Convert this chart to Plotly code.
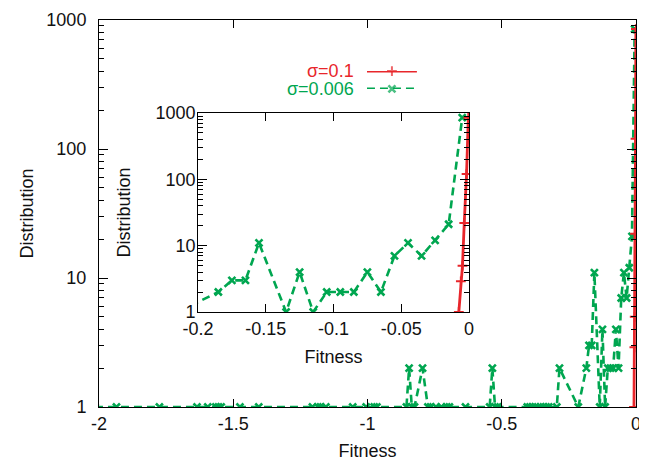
import plotly.graph_objects as go

# ---- data ----
green_fitness = [-2.015, -1.935, -1.775, -1.635, -1.595, -1.565, -1.555, -1.545, -1.475, -1.405,
                 -1.205, -1.185, -1.175, -1.155, -1.055, -1.005, -0.975, -0.965, -0.855, -0.845,
                 -0.835, -0.825, -0.795, -0.775, -0.765, -0.745, -0.725, -0.705, -0.695, -0.635,
                 -0.545, -0.535, -0.525, -0.515, -0.405, -0.395, -0.385, -0.375, -0.355, -0.345,
                 -0.335, -0.325, -0.295, -0.285, -0.215, -0.185, -0.175, -0.165, -0.155, -0.135,
                 -0.125, -0.115, -0.105, -0.095, -0.085, -0.075, -0.065, -0.055, -0.045, -0.035,
                 -0.025, -0.015, -0.005]
green_counts = [1, 1, 1, 1, 1, 1, 1, 1, 1, 1,
                1, 1, 1, 1, 1, 1, 1, 1, 1, 2,
                1, 1, 2, 1, 1, 1, 1, 1, 1, 1,
                1, 2, 1, 1, 1, 1, 1, 1, 1, 1,
                1, 1, 1, 2, 1, 2, 3, 3, 11, 1,
                4, 1, 2, 2, 2, 4, 2, 7, 11, 7,
                12, 21, 850]

red_fitness = [-0.0075, -0.006, -0.0048, -0.0035, -0.0018, -0.0005]
red_counts = [1, 2.9, 5, 22, 120, 850]

main_xticks = [-2, -1.5, -1, -0.5, 0]
main_xlabels = ["-2", "-1.5", "-1", "-0.5", "0"]
inset_xticks = [-0.2, -0.15, -0.1, -0.05, 0]
inset_xlabels = ["-0.2", "-0.15", "-0.1", "-0.05", "0"]
yticks = [1, 10, 100, 1000]
ylabels = ["1", "10", "100", "1000"]
minor_yticks = [2, 3, 4, 5, 6, 7, 8, 9, 20, 30, 40, 50, 60, 70, 80, 90,
                200, 300, 400, 500, 600, 700, 800, 900]
legend_labels = ["σ=0.1", "σ=0.006"]

RED = "#e8262b"
GREEN = "#00a650"
FONT = "Liberation Sans"
FS = 18
TXT = "#111"

fig = go.Figure()

def green_trace(xa, ya):
    return go.Scatter(x=green_fitness, y=green_counts, xaxis=xa, yaxis=ya, mode="lines+markers",
                      line=dict(color=GREEN, width=2.6, dash="8px,5px"),
                      marker=dict(symbol="x-thin", size=7, line=dict(color=GREEN, width=2.6)),
                      showlegend=False)

def red_trace(xa, ya):
    return go.Scatter(x=red_fitness, y=red_counts, xaxis=xa, yaxis=ya, mode="lines+markers",
                      line=dict(color=RED, width=2.8),
                      marker=dict(symbol="cross-thin", size=7, line=dict(color=RED, width=2)),
                      showlegend=False)

fig.add_trace(green_trace("x", "y"))
fig.add_trace(red_trace("x", "y"))
fig.add_trace(green_trace("x2", "y2"))
fig.add_trace(red_trace("x2", "y2"))

# legend keys
fig.add_trace(go.Scatter(x=[0, 0.5, 1], y=[1, 1, 1], xaxis="x3", yaxis="y3", mode="lines+markers",
                         line=dict(color=RED, width=2.8),
                         marker=dict(symbol="cross-thin", size=[0, 7, 0], line=dict(color=RED, width=2)),
                         cliponaxis=False, showlegend=False, hoverinfo="skip"))
fig.add_trace(go.Scatter(x=[0, 0.5, 1], y=[0, 0, 0], xaxis="x3", yaxis="y3", mode="lines+markers",
                         line=dict(color=GREEN, width=2.6, dash="8px,5px"),
                         marker=dict(symbol="x-thin", size=[0, 7, 0], line=dict(color=GREEN, width=2.6)),
                         cliponaxis=False, showlegend=False, hoverinfo="skip"))

axis_common = dict(showline=True, linecolor="black", linewidth=1, mirror="ticks", ticks="inside",
                   tickcolor="black", showgrid=False, zeroline=False, automargin=False,
                   tickfont=dict(family=FONT, size=FS, color=TXT))
minor_common = dict(ticks="inside", ticklen=5, tickcolor="black", tickvals=minor_yticks)
title_font = dict(family=FONT, size=FS, color=TXT)

# page body adds an 8px offset; compensate in size and margins
fig.update_layout(
    width=639, height=453,
    margin=dict(l=91, r=11, t=12, b=54),
    paper_bgcolor="white", plot_bgcolor="white",
    font=dict(family=FONT, size=FS, color=TXT),
    xaxis=dict(domain=[0, 1], range=[-2, 0], tickvals=main_xticks, ticktext=main_xlabels, ticklen=8,
               title=dict(text="Fitness", standoff=20, font=title_font), **axis_common),
    yaxis=dict(domain=[0, 1], type="log", range=[0, 3], tickvals=yticks, ticktext=ylabels, ticklen=9,
               minor=minor_common, ticklabelstandoff=8,
               title=dict(text="Distribution", standoff=8, font=title_font), **axis_common),
    xaxis2=dict(domain=[0.1844, 0.689], anchor="y2", range=[-0.2, 0], tickvals=inset_xticks,
                ticktext=inset_xlabels, ticklen=8,
                title=dict(text="Fitness", standoff=12, font=title_font), **axis_common),
    yaxis2=dict(domain=[0.2455, 0.7597], anchor="x2", type="log", range=[0, 3], tickvals=yticks,
                ticktext=ylabels, ticklen=9, minor=minor_common, ticklabelstandoff=-2,
                title=dict(text="Distribution", standoff=20, font=title_font), **axis_common),
    xaxis3=dict(domain=[0.499, 0.592], anchor="y3", range=[0, 1], visible=False),
    yaxis3=dict(domain=[0.822, 0.868], anchor="x3", range=[0, 1], visible=False),
    annotations=[
        dict(text=legend_labels[0], xref="paper", yref="paper", x=0.4786, y=0.868, xanchor="right",
             yanchor="middle", showarrow=False, font=dict(family=FONT, size=FS, color=RED)),
        dict(text=legend_labels[1], xref="paper", yref="paper", x=0.4786, y=0.822, xanchor="right",
             yanchor="middle", showarrow=False, font=dict(family=FONT, size=FS, color=GREEN)),
    ],
)

fig.write_html("out.html")
